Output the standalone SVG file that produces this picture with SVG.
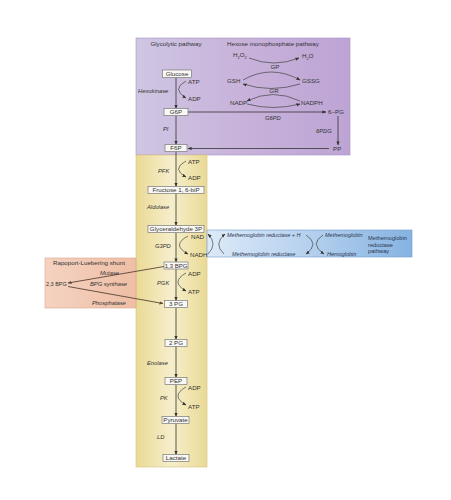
<svg xmlns="http://www.w3.org/2000/svg" width="451" height="500" viewBox="0 0 451 500">
<defs>
<linearGradient id="gPurple" x1="0" y1="0" x2="1" y2="0">
<stop offset="0" stop-color="#cfc6e3"/><stop offset="0.5" stop-color="#c8b2da"/><stop offset="1" stop-color="#bda4d5"/>
</linearGradient>
<linearGradient id="gYellow" x1="0" y1="0" x2="1" y2="0">
<stop offset="0" stop-color="#eada96"/><stop offset="0.5" stop-color="#f6eecb"/><stop offset="1" stop-color="#eada96"/>
</linearGradient>
<linearGradient id="gBlue" x1="0" y1="0" x2="1" y2="0">
<stop offset="0" stop-color="#dceaf8"/><stop offset="0.45" stop-color="#b9d3ef"/><stop offset="1" stop-color="#86b3e1"/>
</linearGradient>
<linearGradient id="gOrange" x1="0" y1="0" x2="1" y2="0">
<stop offset="0" stop-color="#f4d3c1"/><stop offset="1" stop-color="#efbea5"/>
</linearGradient>
<marker id="ah" viewBox="0 0 10 10" refX="9" refY="5" markerWidth="4" markerHeight="4" markerUnits="userSpaceOnUse" orient="auto"><path d="M0,1 L10,5 L0,9 z" fill="#333"/></marker>
<marker id="ahB" viewBox="0 0 10 10" refX="9" refY="5" markerWidth="4" markerHeight="4" markerUnits="userSpaceOnUse" orient="auto"><path d="M0,1 L10,5 L0,9 z" fill="#5a4436"/></marker>
<style>
text{font-family:"Liberation Sans",Arial,sans-serif;font-size:6.2px;fill:#333}
.it{font-style:italic}
.en{font-style:italic;font-size:5.8px}
.bl{font-style:italic;font-size:5.5px;fill:#2b3550}
.bp{font-size:5.7px;fill:#2b3550}
.mid{text-anchor:middle}
.box{fill:#f9f8f4;stroke:#7a7a7a;stroke-width:0.7}
.ln{fill:none;stroke:#333;stroke-width:0.8}
.arc{fill:none;stroke:#444;stroke-width:0.7}
.sh{fill:none;stroke:#5a4436;stroke-width:0.9}
</style>
</defs>
<rect width="451" height="500" fill="#fff"/>
<g id="regions">
<rect x="136" y="38" width="214" height="117" fill="url(#gPurple)" stroke="#a895c2" stroke-width="0.6"/>
<rect x="136" y="155" width="71" height="312" fill="url(#gYellow)" stroke="#d6c27a" stroke-width="0.6"/>
<rect x="207" y="230" width="205" height="27" fill="url(#gBlue)" stroke="#6f9bcc" stroke-width="0.6"/>
<rect x="45" y="258" width="91" height="50" fill="url(#gOrange)" stroke="#dca68e" stroke-width="0.6"/>
</g>
<g id="titles">
<text x="176" y="46" class="mid">Glycolytic pathway</text>
<text x="227" y="46">Hexose monophosphate pathway</text>
<text x="53" y="265">Rapoport-Luebering shunt</text>
</g>
<g id="connectors">
<line class="ln" x1="176" y1="77.5" x2="176" y2="108.5" marker-end="url(#ah)"/>
<line class="ln" x1="176" y1="115.5" x2="176" y2="144.5" marker-end="url(#ah)"/>
<line class="ln" x1="176" y1="151.5" x2="176" y2="186.5" marker-end="url(#ah)"/>
<line class="ln" x1="176" y1="193.5" x2="176" y2="225.5" marker-end="url(#ah)"/>
<line class="ln" x1="176" y1="232.5" x2="176" y2="262" marker-end="url(#ah)"/>
<line class="ln" x1="176" y1="269" x2="176" y2="300.5" marker-end="url(#ah)"/>
<line class="ln" x1="176" y1="307.5" x2="176" y2="339.5" marker-end="url(#ah)"/>
<line class="ln" x1="176" y1="346.5" x2="176" y2="377.5" marker-end="url(#ah)"/>
<line class="ln" x1="176" y1="384.5" x2="176" y2="416.5" marker-end="url(#ah)"/>
<line class="ln" x1="176" y1="423.5" x2="176" y2="454.5" marker-end="url(#ah)"/>
<line class="ln" x1="188" y1="112" x2="326" y2="112" marker-end="url(#ah)"/>
<line class="ln" x1="338" y1="116" x2="338" y2="145" marker-end="url(#ah)"/>
<line class="ln" x1="329" y1="148.5" x2="188" y2="148.5" marker-end="url(#ah)"/>
<path class="arc" d="M249,58 Q274,68 299,58" marker-end="url(#ah)"/>
<path class="arc" d="M243,80 Q271,64 300,80" marker-end="url(#ah)"/>
<path class="arc" d="M300,84 Q271,93 243,84" marker-end="url(#ah)"/>
<path class="arc" d="M300,101 Q273,88 247,101" marker-end="url(#ah)"/>
<path class="arc" d="M247,104 Q273,111 300,104" marker-end="url(#ah)"/>
<path class="arc" d="M186,81 Q171,89 186,98" marker-end="url(#ah)"/>
<path class="arc" d="M186,161 Q171,169 186,177" marker-end="url(#ah)"/>
<path class="arc" d="M188,236 Q171,245 188,254" marker-end="url(#ah)"/>
<path class="arc" d="M186,273 Q170,282 186,291" marker-end="url(#ah)"/>
<path class="arc" d="M186,387 Q170,396 186,405" marker-end="url(#ah)"/>
<path class="arc" d="M208,254 Q218,244 208,234" marker-end="url(#ah)"/>
<path class="arc" d="M224,254 Q213,244 225,234" marker-end="url(#ah)"/>
<path class="arc" d="M306,235 Q320,244 306,254" marker-end="url(#ah)"/>
<path class="arc" d="M323,235 Q309,244 324,254" marker-end="url(#ah)"/>
<line class="sh" x1="164" y1="266.5" x2="68" y2="283" marker-end="url(#ahB)"/>
<line class="sh" x1="68" y1="286.5" x2="163" y2="303.5" marker-end="url(#ahB)"/>
</g>
<g id="glucose"><rect class="box" x="162.5" y="70" width="29" height="7.5"/><text x="177" y="76" class="mid">Glucose</text></g>
<g id="g6p"><rect class="box" x="164" y="108.5" width="24" height="7"/><text x="176" y="114.3" class="mid">G6P</text></g>
<g id="f6p"><rect class="box" x="165" y="144.5" width="22" height="7"/><text x="176" y="150.3" class="mid">F6P</text></g>
<g id="fructose"><rect class="box" x="148" y="186.5" width="56" height="7"/><text x="176" y="192.3" class="mid">Fructose 1, 6-biP</text></g>
<g id="glyceraldehyde"><rect class="box" x="148" y="225.5" width="56" height="7"/><text x="176" y="231.3" class="mid">Glyceraldehyde 3P</text></g>
<g id="bpg13"><rect class="box" x="164" y="262" width="24" height="7"/><text x="176" y="267.8" class="mid" style="font-size:6px">1,3 BPG</text></g>
<g id="pg3"><rect class="box" x="164.5" y="300.5" width="23" height="7"/><text x="176" y="306.3" class="mid">3 PG</text></g>
<g id="pg2"><rect class="box" x="165" y="339.5" width="22" height="7"/><text x="176" y="345.3" class="mid">2 PG</text></g>
<g id="pep"><rect class="box" x="165" y="377.5" width="22" height="7"/><text x="176" y="383.3" class="mid">PEP</text></g>
<g id="pyruvate"><rect class="box" x="162" y="416.5" width="27" height="7"/><text x="175.5" y="422.3" class="mid">Pyruvate</text></g>
<g id="lactate"><rect class="box" x="163" y="454.5" width="26" height="7"/><text x="176" y="460.3" class="mid">Lactate</text></g>
<g id="hexokinase"><text x="188" y="84">ATP</text><text x="188" y="101">ADP</text><text x="138" y="93" class="en">Hexokinase</text></g>
<g id="pi"><text x="163" y="131" class="en">PI</text></g>
<g id="pfk"><text x="188" y="164">ATP</text><text x="188" y="180">ADP</text><text x="158" y="173" class="en">PFK</text></g>
<g id="aldolase"><text x="147" y="209" class="en">Aldolase</text></g>
<g id="g3pd"><text x="191" y="238.5">NAD</text><text x="190" y="256.5">NADH</text><text x="155" y="248" class="en">G3PD</text></g>
<g id="pgk"><text x="188" y="276">ADP</text><text x="188" y="294">ATP</text><text x="157" y="285" class="en">PGK</text></g>
<g id="enolase"><text x="147" y="365" class="en">Enolase</text></g>
<g id="pk"><text x="188" y="390">ADP</text><text x="188" y="409">ATP</text><text x="160" y="400" class="en">PK</text></g>
<g id="ld"><text x="157" y="439" class="en">LD</text></g>
<g id="h2o2"><text x="233" y="57">H<tspan font-size="4" dy="1.5">2</tspan><tspan dy="-1.5">O</tspan><tspan font-size="4" dy="1.5">2</tspan></text></g>
<g id="h2o"><text x="302" y="58">H<tspan font-size="4" dy="1.5">2</tspan><tspan dy="-1.5">O</tspan></text></g>
<g id="gp"><text x="275" y="69" class="mid">GP</text></g>
<g id="gsh"><text x="227" y="82.5">GSH</text></g>
<g id="gssg"><text x="302" y="82.5">GSSG</text></g>
<g id="gr"><text x="274" y="93" class="mid">GR</text></g>
<g id="nadp"><text x="230" y="104.5">NADP</text></g>
<g id="nadph"><text x="301" y="104.5">NADPH</text></g>
<g id="g6pd"><text x="265" y="119.5" class="en">G6PD</text></g>
<g id="pg6"><text x="328" y="114.3">6–PG</text></g>
<g id="pdg6"><text x="316" y="133" class="en">6PDG</text></g>
<g id="pp"><text x="333" y="151">PP</text></g>
<g id="methb-reductase-h"><text x="227" y="237" class="bl">Methemoglobin reductase + H</text></g>
<g id="methb-reductase"><text x="232" y="255.5" class="bl">Methemoglobin reductase</text></g>
<g id="methemoglobin"><text x="325" y="237" class="bl">Methemoglobin</text></g>
<g id="hemoglobin"><text x="327" y="255.5" class="bl">Hemoglobin</text></g>
<g id="methb-pathway"><text x="368" y="240" class="bp">Methemoglobin</text><text x="368" y="246.5" class="bp">reductase</text><text x="368" y="253" class="bp">pathway</text></g>
<g id="bpg23"><text x="46" y="286.3" style="font-size:5.5px">2,3 BPG</text></g>
<g id="mutase"><text x="100" y="275" class="en">Mutase</text></g>
<g id="bpg-synthase"><text x="90" y="286.3" class="en">BPG synthase</text></g>
<g id="phosphatase"><text x="92" y="305" class="en">Phosphatase</text></g>
</svg>
